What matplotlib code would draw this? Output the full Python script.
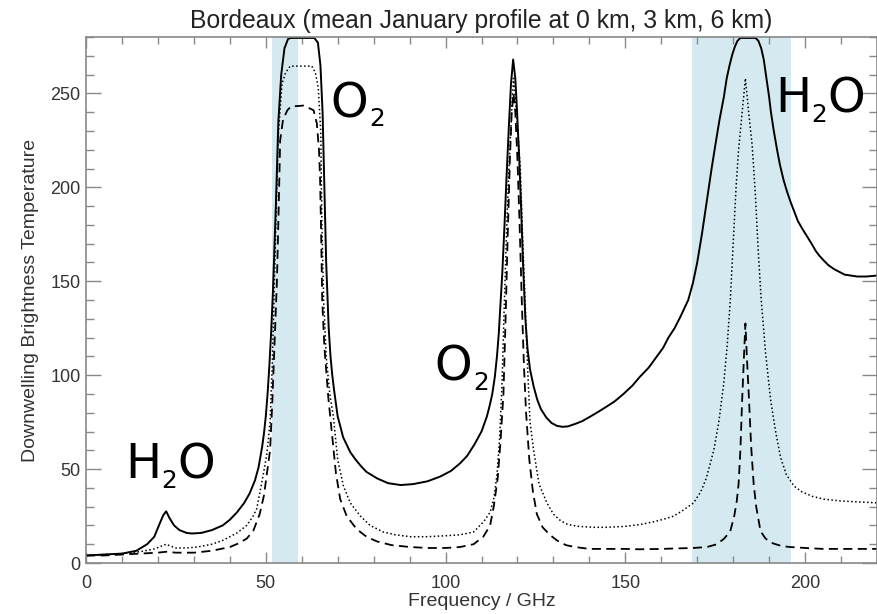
import numpy as np
import matplotlib.pyplot as plt

# brightness temperature, 0 km (solid)
freq_0km = [0, 5, 10, 14, 17, 19, 20.5, 21.5, 22.3, 23.2, 24.5, 26, 28, 29.5, 32, 35, 38, 40, 42, 44,
            45.5, 47, 48, 49, 49.5, 50, 50.5, 51, 51.5, 52, 52.4, 52.8, 53.5, 54.3, 55.2, 56.2, 57,
            63.5, 64.5, 65.2, 65.8, 66.3, 66.8, 67.5, 68, 68.5, 69, 69.5, 70, 70.7, 71.5, 72.5, 73.5,
            75, 76.5, 78, 81, 84, 87.5, 91, 95, 98.5, 101.5, 104, 106, 108, 110, 111.5, 112.3, 113,
            113.7, 114.3, 114.8, 115.2, 115.8, 116.4, 117, 117.6, 118.2, 118.8, 119.4, 119.9, 120.5,
            121, 121.6, 122.2, 122.8, 123.5, 124.5, 125.5, 126.5, 128, 129.5, 131, 132.5, 134, 136,
            138, 140.3, 142.5, 145, 147, 149.5, 152, 154, 156.5, 158.8, 160.5, 162, 163.7, 165.3,
            167.5, 168.8, 170, 171.3, 172.7, 174, 175, 176.2, 177.4, 178.2, 179, 179.8, 180.5, 181.2,
            182, 186.2, 187, 187.8, 188.5, 189.4, 190, 190.5, 191.3, 192.2, 193, 194, 195, 196, 197,
            198, 199.2, 200.5, 201.8, 203, 204, 205.2, 206.5, 208, 209.5, 211, 212.7, 214.5, 217, 220]
tb_0km = [4, 4.5, 5, 6.5, 10, 14, 21, 25.5, 27.5, 24, 20, 17.5, 16, 15.7, 16, 17.5, 20, 23, 27, 32,
          37, 44, 51, 62, 69, 78, 90, 105, 123, 145, 168, 190, 235, 260, 274, 279, 279.5,
          279.5, 277, 265, 240, 200, 160, 125, 110, 100, 92, 85, 78, 73, 67, 63, 59,
          55, 51.5, 48.5, 45, 42.5, 41.5, 42, 43.5, 46, 49, 53, 57, 63, 70, 78, 84, 90,
          99, 110, 122, 135, 155, 180, 207, 232, 255, 268, 258, 240, 215,
          190, 157, 130, 114, 103, 94, 87, 82, 77.5, 74.5, 73, 72.5, 72.7, 74,
          75.5, 78, 80.5, 83.5, 86, 90, 94.5, 99, 104, 110, 114.5, 120, 125, 131,
          140, 149, 160, 175, 193, 210, 222, 236, 248, 258, 265, 271, 275, 278,
          279.5, 279.5, 278, 274, 268, 256, 248, 240, 230, 220, 212, 204, 197.5, 192, 187,
          182, 178, 174, 170, 166, 163.5, 161, 158.5, 156.5, 155, 153.5, 153, 152.5, 152.5, 153]

# 3 km (dotted)
freq_3km = [0, 5, 10, 15, 19, 21, 22.3, 23.5, 25, 28, 31, 35, 38, 40, 42, 44.7, 46.5, 47.5, 48.3,
            49.3, 50.3, 51.2, 51.8, 52.4, 53, 53.5, 54.5, 55.5, 56.8, 62.8, 63.8, 64.6, 65.3, 65.6,
            66.1, 66.8, 67.8, 68.8, 70, 71.6, 73.5, 76.3, 79, 82.7, 86, 90.2, 95, 100, 104, 107.8,
            110.6, 112.4, 113.5, 114.3, 115, 115.7, 116.3, 116.9, 117.5, 118, 118.5, 118.9, 119.3,
            119.9, 120.8, 121.5, 122.2, 122.8, 123.5, 124.5, 126, 128.2, 130, 132, 134, 137, 141,
            145, 150, 154.2, 158, 161, 163.5, 166, 169, 171, 172.5, 174.6, 176, 177.4, 178.3, 179.2,
            180, 180.8, 181.5, 182.5, 183.4, 184.3, 185.3, 186.2, 187, 187.8, 189, 190.4, 191.8,
            193.2, 194.8, 196.9, 199, 202, 205.2, 210, 215, 220]
tb_3km = [4, 4.5, 5, 6, 7.5, 9, 10, 9, 8, 8, 8.5, 10, 12, 14, 16, 20, 25, 29, 37,
          47, 58, 75, 105, 150, 195, 228, 255, 261, 264.5, 264.5, 261, 253, 229, 180,
          140, 110, 90, 78, 55, 41, 32, 25, 20, 16.5, 15, 14, 14, 14.5, 15, 16.5,
          22, 27, 35, 47, 65, 95, 135, 172, 205, 225, 245, 258, 250,
          235, 210, 170, 136, 105, 75, 60, 42, 32, 26, 22.5, 20.5, 19.5, 19,
          19, 19.5, 20.5, 22, 23.5, 25, 28, 32, 38, 45, 60, 75, 96, 115, 140,
          170, 200, 220, 240, 258, 240, 222, 195, 165, 140, 112, 87, 70,
          56, 47, 41, 38, 35.5, 34, 33, 32.5, 32]

# 6 km (dashed)
freq_6km = [0, 5, 10, 15, 20, 22.3, 25, 30, 35, 40, 42.5, 44.7, 46.5, 48.3, 49.5, 50.2, 51.2, 51.8,
            52.4, 53.1, 53.6, 54, 54.8, 56, 57, 60.5, 63.3, 64.2, 64.8, 65.1, 65.4, 65.7, 66.3,
            67.4, 68.4, 69.5, 70.7, 72.5, 75.3, 78, 80.9, 85, 90.2, 95, 100, 104, 107.8, 110.5,
            112.4, 113.4, 114.5, 115.3, 116.1, 116.7, 117.3, 117.9, 118.4, 118.9, 119.4, 120, 120.6,
            121.2, 121.8, 122.4, 123.3, 124.3, 125.4, 127, 129, 131, 133.5, 136, 140, 145, 150, 154,
            160, 165, 169, 172.7, 175.5, 177.5, 179.2, 180.3, 181, 181.5, 182, 182.5, 183, 183.4,
            183.8, 184.4, 185, 185.7, 186.4, 187.6, 189, 191, 193.5, 195.9, 200, 205, 210, 220]
tb_6km = [4, 4, 4.5, 5, 5.5, 6, 5.5, 5.5, 6.5, 8.5, 10.5, 13, 17, 26, 36, 46, 60, 85,
          115, 150, 190, 225, 236, 241, 243, 243.5, 241, 234, 220, 205, 175, 140, 115,
          88, 69, 48, 34, 25, 18, 14, 11.5, 9.5, 8.5, 8, 8, 8.5, 10, 14,
          20, 30, 45, 65, 90, 130, 175, 215, 240, 250, 240, 215, 180,
          140, 105, 80, 55, 38, 26, 19, 15, 12, 9.5, 8.5, 7.5, 7.5, 7.5, 7.3,
          7.5, 7.8, 8, 8.5, 10, 13, 17, 25, 33, 42, 60, 87, 110, 127.5,
          110, 87, 62, 42, 30, 17, 13, 10.5, 9, 8.5, 8, 7.5, 7.5, 7.5]

# shaded channel bands (GHz)
bands = [(51.8, 59.0), (168.5, 196.0)]

# line labels: anchor (GHz, K) and the pieces: text, dx px, dy px, size pt
h2o_pieces = [('H', 0, 0, 34.5), ('2', 36, -10, 17.8), ('O', 52, 0, 34.5)]
o2_pieces = [('O', 0, 0, 34.5), ('2', 39, -9, 17.8)]
label_pos = [(11.0, 45.2), (68.0, 237.3), (96.8, 97.0), (191.6, 239.9)]
label_kind = [h2o_pieces, o2_pieces, o2_pieces, h2o_pieces]

plt.rcParams['font.family'] = ['Liberation Sans', 'DejaVu Sans']

fig = plt.figure(figsize=(8.77, 6.14), dpi=100)
ax = fig.add_axes([86 / 877, 51 / 614, 791 / 877, 526 / 614])

for lo, hi in bands:
    ax.axvspan(lo, hi, color='#d5eaf0', lw=0, zorder=0)

ax.plot(freq_0km, tb_0km, color='black', lw=1.4, solid_joinstyle='round')
ax.plot(freq_3km, tb_3km, color='black', lw=1.1, linestyle=(0, (1, 1.6)))
ax.plot(freq_6km, tb_6km, color='black', lw=1.3, linestyle=(0, (5, 3)))

for (x, y), pieces in zip(label_pos, label_kind):
    for s, dx, dy, size in pieces:
        ax.annotate(s, (x, y), xytext=(dx, dy), textcoords='offset pixels', fontsize=size,
                    family='DejaVu Sans', ha='left', va='baseline', color='black')

ax.set_xlim(0, 220)
ax.set_ylim(0, 280)
ax.set_xticks([0, 50, 100, 150, 200])
ax.set_xticks(np.arange(0, 221, 10), minor=True)
ax.set_yticks([0, 50, 100, 150, 200, 250])
ax.set_yticks(np.arange(0, 281, 10), minor=True)

ax.tick_params(axis='x', which='major', direction='in', length=8, width=1, top=True,
               colors='#888888', labelcolor='#333333', labelsize=13, pad=8.5)
ax.tick_params(axis='x', which='minor', direction='in', length=5, width=1, top=True, colors='#888888')
ax.tick_params(axis='y', which='major', direction='in', length=11, width=1, right=True,
               colors='#888888', labelcolor='#333333', labelsize=13, pad=4)
ax.tick_params(axis='y', which='minor', direction='in', length=6, width=1, right=True, colors='#888888')
for sp in ax.spines.values():
    sp.set_color('#888888')
    sp.set_linewidth(1.2)

ax.set_title('Bordeaux (mean January profile at 0 km, 3 km, 6 km)', fontsize=17.8, color='#222222', pad=6.5)
ax.set_xlabel('Frequency / GHz', fontsize=14, color='#333333', labelpad=1)
ax.set_ylabel('Downwelling Brightness Temperature', fontsize=14, color='#333333', labelpad=8)

fig.savefig('out.png', dpi=100)
